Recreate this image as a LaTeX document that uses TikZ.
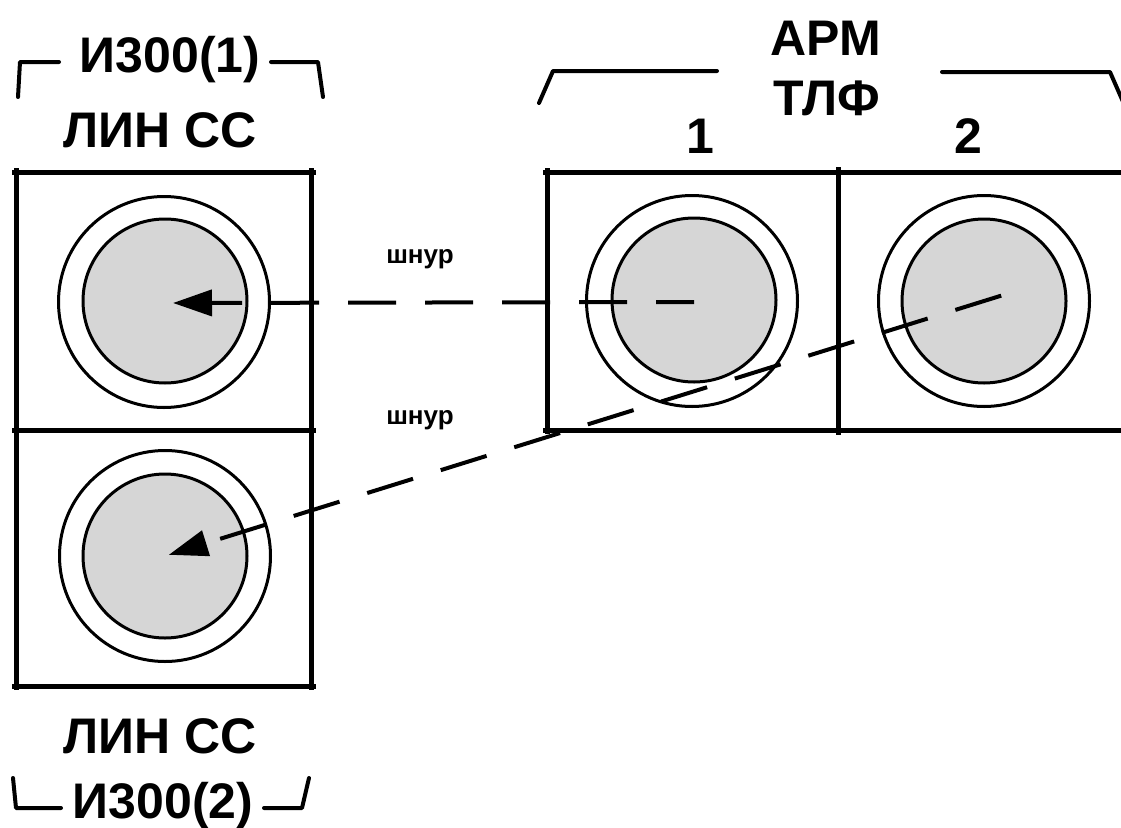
\documentclass[tikz,border=0pt]{standalone}
\usepackage{fontspec}
\setmainfont{Liberation Sans}
\usetikzlibrary{arrows.meta}
\definecolor{socketgray}{RGB}{214,214,214}
\begin{document}
\begin{tikzpicture}[x=1pt,y=-1pt,
  boxline/.style={line width=5pt},
  brk/.style={line width=4pt, line cap=round, line join=round},
  outerring/.style={circle, draw, line width=3pt, minimum size=211pt, inner sep=0pt},
  innerdisc/.style={circle, draw, line width=3pt, minimum size=164pt, inner sep=0pt, fill=socketgray},
  lbl/.style={font=\fontsize{50}{52}\selectfont\bfseries, anchor=base, inner sep=0pt},
  smalllbl/.style={font=\fontsize{26}{28}\selectfont\bfseries, anchor=base, inner sep=0pt},
  cord/.style={line width=4pt, dash pattern=on 48pt off 29pt, -{Triangle[length=39pt,width=26pt]}},
]
\useasboundingbox (0,0) rectangle (1121,827);
\clip (0,0) rectangle (1121,827);

% left panel (И300)
\draw[boxline] (12,172) -- (316,172);
\draw[boxline] (12,430) -- (316,430);
\draw[boxline] (12,686) -- (316,686);
\draw[boxline] (16,168) -- (16,690);
\draw[boxline] (311,168) -- (311,690);

% right panel (АРМ ТЛФ)
\draw[boxline] (543,172) -- (1121,172);
\draw[boxline] (543,430) -- (1121,430);
\draw[boxline] (547,168) -- (547,434);
\draw[boxline] (838,167) -- (838,435);

% brackets
\draw[brk] (18,97) -- (20,62) -- (59,62);
\draw[brk] (271,62) -- (318,62) -- (323,97);
\draw[brk] (13,778) -- (16,808) -- (61,808);
\draw[brk] (264,808) -- (302,808) -- (309,778);
\draw[brk] (539,103) -- (553,71) -- (717,71);
\draw[brk] (942,72) -- (1110,72) -- (1124,104);

% labels
\node[lbl] (t1) at (170,72) {И300(1)};
\node[lbl] (t2) at (160,147) {ЛИН СС};
\node[lbl] (t3) at (160,753) {ЛИН СС};
\node[lbl] (t4) at (163,818) {И300(2)};
\node[lbl] (t5) at (826,55) {АРМ};
\node[lbl] (t6) at (827,115) {ТЛФ};
\node[lbl] (n1) at (700,153) {1};
\node[lbl] (n2) at (968,153) {2};
\node[smalllbl] (c1) at (420,263) {шнур};
\node[smalllbl] (c2) at (420,424) {шнур};

% sockets
\node[outerring] (s1o) at (164,302) {};
\node[innerdisc] (s1) at (165,301) {};
\node[outerring] (s2o) at (165,556) {};
\node[innerdisc] (s2) at (165,556) {};
\node[outerring] (a1o) at (692,301) {};
\node[innerdisc] (a1) at (694,300) {};
\node[outerring] (a2o) at (984,301) {};
\node[innerdisc] (a2) at (984,301) {};

% cords
\draw[cord, dash phase=10pt, shorten >=8pt] ([yshift=-2pt]a1.center) -- ([yshift=-2pt]s1.center);
\draw[cord, shorten <=-18pt, shorten >=4pt] (a2.center) -- (s2.center);
\end{tikzpicture}
\end{document}
